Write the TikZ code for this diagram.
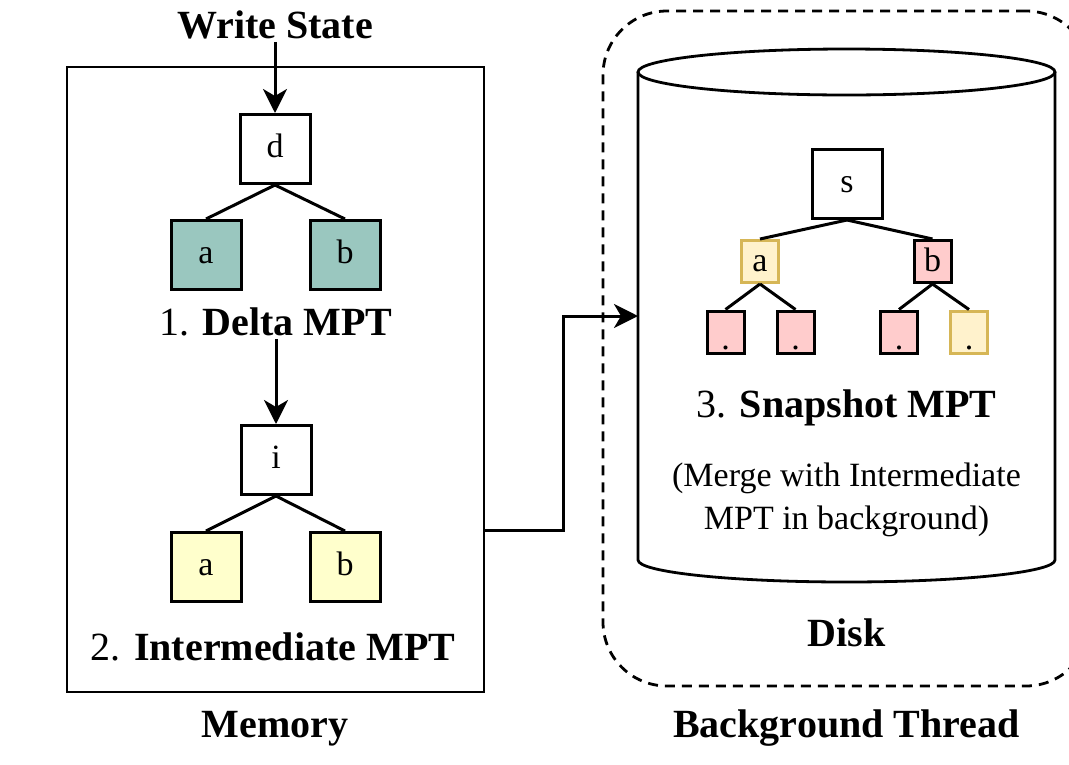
\documentclass[tikz,border=0pt]{standalone}
\usepackage{fontspec}
\setmainfont{Liberation Serif}
\usetikzlibrary{arrows.meta}
\definecolor{teal1}{HTML}{9AC7BF}
\definecolor{yel1}{HTML}{FFFFCC}
\definecolor{pink1}{HTML}{FFCCCC}
\definecolor{org1}{HTML}{FFF2CC}
\definecolor{orgb}{HTML}{D6B656}
\begin{document}
\begin{tikzpicture}[x=1pt,y=-1pt,
  box/.style={draw=black, line width=3pt, minimum width=70pt, minimum height=69pt, inner sep=0pt,
              font=\fontsize{34}{40}\selectfont, text height=24pt, text depth=7pt},
  sbox/.style={draw=black, line width=3pt, minimum width=37pt, minimum height=42pt, inner sep=0pt,
               font=\fontsize{34}{40}\selectfont, text height=24pt, text depth=5pt},
  leaf/.style={sbox, text height=34pt, text depth=0pt},
  edge/.style={line width=3pt},
  arr/.style={line width=3pt, -{Stealth[length=24pt,width=24pt,inset=7pt]}},
  lbl/.style={font=\fontsize{40}{48}\selectfont, anchor=base, inner sep=3pt},
  small/.style={font=\fontsize{34}{43}\selectfont, align=center, inner sep=0pt},
]
\path[use as bounding box] (0,0) rectangle (1069,764);
\clip (0,0) rectangle (1069,764);

% background thread dashed container
\node[draw=black, line width=2.8pt, dash pattern=on 10pt off 7pt, rounded corners=64pt,
      minimum width=487pt, minimum height=675pt] (bg) at (846.5,348.5) {};

% memory container
\node[draw=black, line width=2.5pt, minimum width=417pt, minimum height=625pt] (mem) at (275.5,379.5) {};

% disk cylinder
\draw[line width=2.8pt, fill=white] (638,72) -- (638,560) arc[start angle=180, end angle=360, x radius=208.5pt, y radius=22pt] -- (1055,72);
\draw[line width=2.8pt] (846.5,72) ellipse [x radius=208.5pt, y radius=23pt];
\coordinate (diskin) at (638,316);

% texts
\node[lbl] (ws) at (275,38) {\textbf{Write State}};
\node[lbl] (delta) at (276,335) {1. \textbf{Delta MPT}};
\node[lbl] (inter) at (273,660) {2. \textbf{Intermediate MPT}};
\node[lbl] (memlbl) at (275,737) {\textbf{Memory}};
\node[lbl] (snap) at (846.5,417) {3. \textbf{Snapshot MPT}};
\node[small] (merge) at (846.5,500) {(Merge with Intermediate\\MPT in background)};
\node[lbl] (disk) at (846.5,646) {\textbf{Disk}};
\node[lbl] (bglbl) at (846.5,737) {\textbf{Background Thread}};

% delta MPT
\node[box, fill=white] (d) at (275,149) {d};
\node[box, fill=teal1] (da) at (206,255) {a};
\node[box, fill=teal1] (db) at (345,255) {b};
\draw[edge] (d.south) -- (da.north);
\draw[edge] (d.south) -- (db.north);

% intermediate MPT
\node[box, fill=white] (i) at (276,460) {i};
\node[box, fill=yel1] (ia) at (206,567) {a};
\node[box, fill=yel1] (ib) at (345,567) {b};
\draw[edge] (i.south) -- (ia.north);
\draw[edge] (i.south) -- (ib.north);

% snapshot MPT
\node[box, fill=white] (s) at (847,184) {s};
\node[sbox, fill=org1, draw=orgb] (sa) at (760,261.5) {a};
\node[sbox, fill=pink1] (sb) at (932.5,261.5) {b};
\node[leaf, fill=pink1] (sa1) at (725.5,332) {.};
\node[leaf, fill=pink1] (sa2) at (795.5,332) {.};
\node[leaf, fill=pink1] (sb1) at (899,332) {.};
\node[leaf, fill=org1, draw=orgb] (sb2) at (969,332) {.};
\draw[edge] (s.south) -- (sa.north);
\draw[edge] (s.south) -- (sb.north);
\draw[edge] (sa.south) -- (sa1.north);
\draw[edge] (sa.south) -- (sa2.north);
\draw[edge] (sb.south) -- (sb1.north);
\draw[edge] (sb.south) -- (sb2.north);

% arrows
\draw[arr] (ws.south) -- (d.north);
\draw[arr] (delta.south -| i.north) -- (i.north);
\draw[arr] (mem.east |- 0,530) -- ++(78,0) |- (diskin);
\end{tikzpicture}
\end{document}
